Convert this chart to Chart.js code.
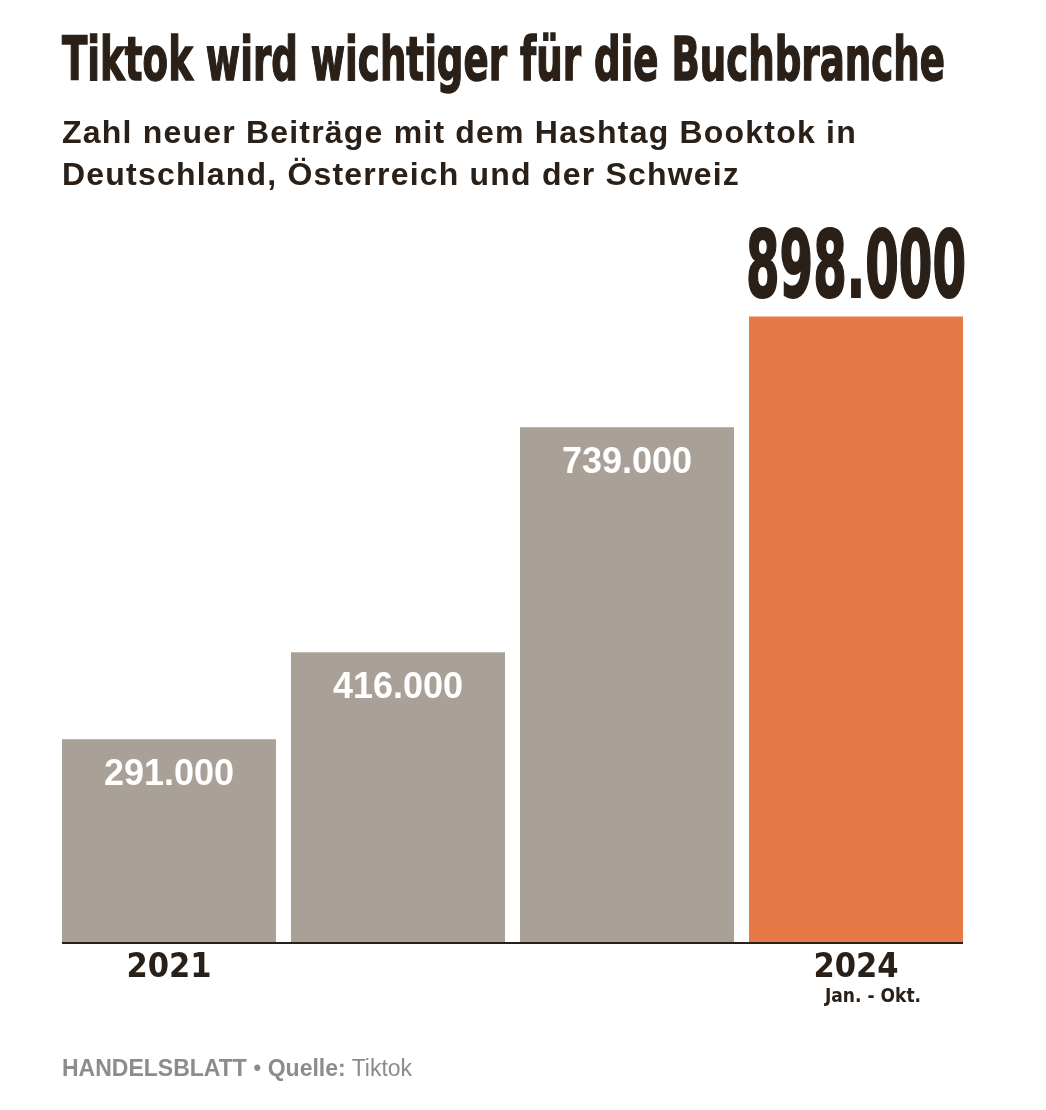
<!DOCTYPE html>
<html lang="de">
<head>
<meta charset="utf-8">
<title>Tiktok wird wichtiger für die Buchbranche</title>
<script src="https://cdn.jsdelivr.net/npm/chart.js@4.4.1/dist/chart.umd.min.js"></script>
<style>
  html, body { margin: 0; padding: 0; background: #fff; }
  body { width: 1046px; height: 1110px; position: relative; overflow: hidden; }
  #chartWrap { position: absolute; left: 0; top: 0; width: 1046px; height: 1110px; }
  .title {
    position: absolute; left: 62px; top: 29px; margin: 0;
    font: bold 60px "Liberation Sans Narrow", "DejaVu Sans Condensed", "Liberation Sans", sans-serif;
    line-height: 60px; color: #2a2018; white-space: nowrap;
    -webkit-text-stroke: 1.4px #2a2018;
    transform-origin: 0 0; display: inline-block;
  }
  .subtitle {
    position: absolute; left: 62px; top: 111px; margin: 0;
    font: bold 32px "Liberation Sans", Arial, sans-serif;
    letter-spacing: 1.2px;
    line-height: 42px; color: #2a2018; white-space: nowrap;
  }
  .footer {
    position: absolute; left: 62px; top: 1057px; margin: 0;
    font: 23px "Liberation Sans", Arial, sans-serif;
    line-height: 23px; color: #8c8c8c; white-space: nowrap;
  }
  .footer b { font-weight: bold; }
</style>
</head>
<body>
<div id="chartWrap"><canvas id="chartBars"></canvas></div>
<h1 class="title" id="title">Tiktok wird wichtiger für die Buchbranche</h1>
<p class="subtitle">Zahl neuer Beiträge mit dem Hashtag Booktok in<br>Deutschland, Österreich und der Schweiz</p>
<p class="footer"><b>HANDELSBLATT</b> • <b>Quelle:</b> Tiktok</p>

<script>
const years = ["2021", "2022", "2023", "2024"];
const posts = [291000, 416000, 739000, 898000];
const shownYears = ["2021", "2024"];
const lastNote = "Jan. - Okt.";

const grey = "#a9a197";
const orange = "#e67945";
const dark = "#2a2018";

// squeeze the headline to the reference width
const titleEl = document.getElementById("title");
const titleW = titleEl.getBoundingClientRect().width;
titleEl.style.transform = "scaleX(" + (883 / titleW) + ")";

const fmt = (v) => v.toLocaleString("de-DE");

const barLabels = {
  id: "barLabels",
  afterDatasetsDraw(chart) {
    const ctx = chart.ctx;
    const meta = chart.getDatasetMeta(0);
    ctx.save();

    // baseline only as wide as the bars
    const first = meta.data[0];
    const last = meta.data[meta.data.length - 1];
    ctx.strokeStyle = dark;
    ctx.lineWidth = 2;
    ctx.beginPath();
    ctx.moveTo(first.x - first.width / 2, chart.chartArea.bottom + 1);
    ctx.lineTo(last.x + last.width / 2, chart.chartArea.bottom + 1);
    ctx.stroke();

    meta.data.forEach((bar, i) => {
      const txt = fmt(posts[i]);
      if (i < posts.length - 1) {
        ctx.fillStyle = "#ffffff";
        ctx.font = "bold 36px 'Liberation Sans', Arial, sans-serif";
        ctx.textAlign = "center";
        ctx.textBaseline = "middle";
        ctx.fillText(txt, bar.x, bar.y + 36);
      } else {
        ctx.fillStyle = dark;
        ctx.strokeStyle = dark;
        ctx.lineWidth = 2;
        ctx.font = "bold 93px 'Liberation Sans Narrow', 'DejaVu Sans Condensed', sans-serif";
        ctx.textAlign = "center";
        ctx.textBaseline = "alphabetic";
        const w = ctx.measureText(txt).width;
        ctx.save();
        ctx.translate(bar.x, bar.y - 19);
        ctx.scale(220 / w, 1);
        ctx.fillText(txt, 0, 0);
        ctx.strokeText(txt, 0, 0);
        ctx.restore();
      }
    });

    // note under the last year
    const xs = chart.scales.x;
    ctx.fillStyle = dark;
    ctx.font = "bold 19px 'DejaVu Sans Condensed', 'Liberation Sans Narrow', sans-serif";
    ctx.textAlign = "center";
    ctx.textBaseline = "middle";
    ctx.fillText(lastNote, xs.getPixelForValue(years.length - 1) + 17, xs.top + 55);
    ctx.restore();
  },
};

const dataBars = {
  labels: years,
  datasets: [
    {
      label: "Beiträge #booktok",
      data: posts,
      backgroundColor: years.map((y, i) => (i === years.length - 1 ? orange : grey)),
      borderWidth: 0,
      categoryPercentage: 1,
      barPercentage: 214 / 229,
    },
  ],
};

const configBars = {
  type: "bar",
  data: dataBars,
  plugins: [barLabels],
  options: {
    responsive: true,
    maintainAspectRatio: false,
    animation: false,
    events: [],
    layout: { padding: { left: 54.5, right: 75.5, top: 315, bottom: 0 } },
    plugins: { legend: { display: false }, tooltip: { enabled: false } },
    scales: {
      x: {
        grid: { display: false, drawTicks: false },
        border: { display: false },
        ticks: {
          color: dark,
          padding: 6,
          maxRotation: 0,
          autoSkip: false,
          font: { family: "'DejaVu Sans Condensed', 'Liberation Sans Narrow', sans-serif", size: 34, weight: "bold" },
          callback: function (value) {
            const lbl = this.getLabelForValue(value);
            return shownYears.includes(lbl) ? lbl : "";
          },
        },
        afterFit(scale) {
          scale.height = 1110 - 942;
        },
      },
      y: {
        display: false,
        min: 0,
        max: 900000,
      },
    },
  },
};

let chartBars = new Chart(document.getElementById("chartBars"), configBars);
</script>
</body>
</html>
